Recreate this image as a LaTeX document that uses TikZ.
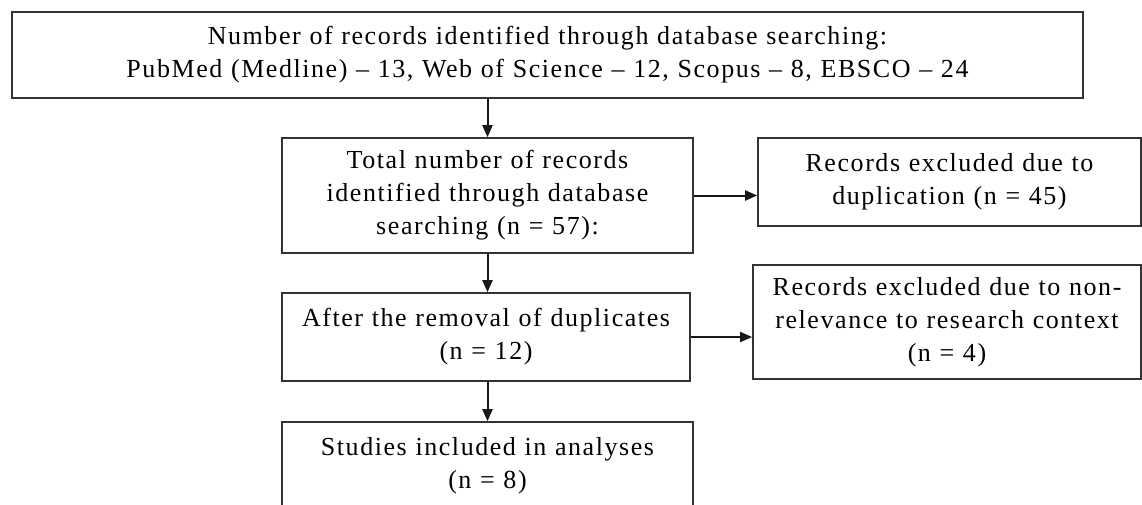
\documentclass[tikz,border=0pt]{standalone}
\usepackage{fontspec}
\setmainfont[LetterSpace=6]{Liberation Serif}
\usepackage{tikz}
\usetikzlibrary{arrows.meta,positioning}

\begin{document}
\begin{tikzpicture}[x=0.5pt, y=-0.5pt, font=\fontsize{13}{16.5}\selectfont,
  box/.style={rectangle, draw=black!80, line width=0.8pt, inner sep=0pt, align=center},
  flow/.style={draw=black!90, line width=1pt, -{Triangle[length=6pt, width=5pt]}}]
  \useasboundingbox (0,0) rectangle (1142,504);
  \node[box, minimum width=535.5pt, minimum height=43pt, text width=530pt] (search) at (547.5,55)
    {Number of records identified through database searching:\\
     PubMed (Medline) -- 13, Web of Science -- 12, Scopus -- 8, EBSCO -- 24};
  \node[box, minimum width=205.5pt, minimum height=57.5pt, text width=200pt] (total) at (487.5,195.5)
    {Total number of records\\identified through database\\searching (n = 57):};
  \node[box, minimum width=191.5pt, minimum height=44pt, text width=188pt] (dup) at (949.5,182)
    {Records excluded due to\\duplication (n = 45)};
  \node[box, minimum width=204pt, minimum height=44pt, text width=200pt] (after) at (486,337)
    {After the removal of duplicates\\(n = 12)};
  \node[box, minimum width=194pt, minimum height=57pt, text width=190pt] (nonrel) at (947,322)
    {Records excluded due to non-\\relevance to research context\\(n = 4)};
  \node[box, minimum width=205.5pt, minimum height=44pt, text width=200pt] (incl) at (487.5,466)
    {Studies included in analyses\\(n = 8)};
  \draw[flow] (search.south -| total.north) -- (total.north);
  \draw[flow] (total.east) -- (total.east -| dup.west);
  \draw[flow] (total.south) -- (after.north -| total.south);
  \draw[flow] (after.east) -- (after.east -| nonrel.west);
  \draw[flow] (after.south -| incl.north) -- (incl.north);
\end{tikzpicture}
\end{document}
